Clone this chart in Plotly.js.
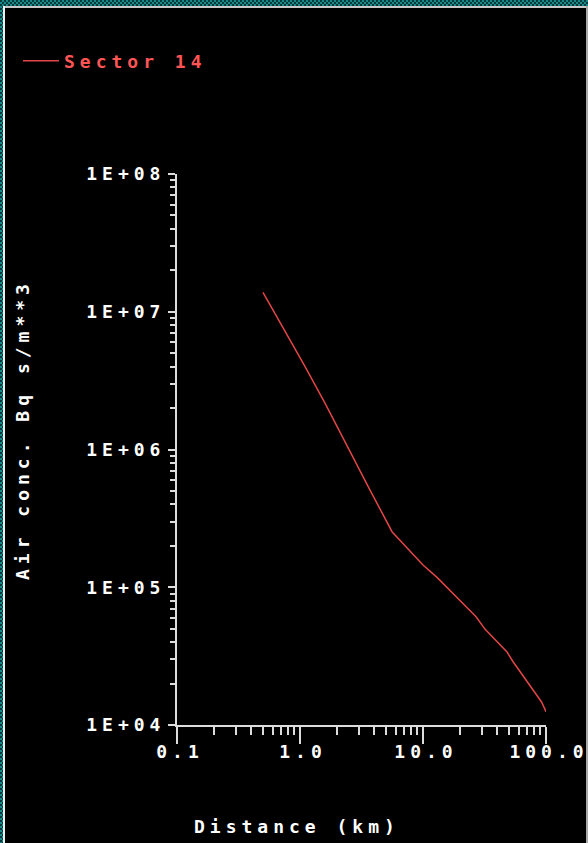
<!DOCTYPE html>
<html>
<head>
<meta charset="utf-8">
<script src="https://cdn.plot.ly/plotly-3.0.1.min.js"></script>
<style>
  html, body { margin:0; padding:0; background:#000; }
  #wrap { position:relative; width:588px; height:843px; overflow:hidden; }
  #chart { position:absolute; left:0; top:0; width:588px; height:843px; }
  .checker { position:absolute; background:repeating-conic-gradient(#168a8a 0 25%, #0b3a3a 0 50%) 0 0/4px 4px; }
  .edge { position:absolute; }
  text { letter-spacing:5px; }
</style>
</head>
<body>
<div id="wrap">
  <div id="chart"></div>
  <div class="checker" style="left:0;top:0;width:588px;height:6px;"></div>
  <div class="checker" style="left:0;top:0;width:3px;height:843px;"></div>
  <div class="edge" style="left:3px;top:6px;width:585px;height:2px;background:#c8c8c8;"></div>
  <div class="edge" style="left:3px;top:6px;width:2px;height:837px;background:#f0f0f0;"></div>
  <div class="edge" style="left:586px;top:6px;width:2px;height:837px;background:#a8a8a8;"></div>
</div>
<script>
// Data
const seriesName = "Sector 14";
const distanceKm = [0.5, 0.7, 1.1, 1.6, 2.5, 3.7, 5.6, 10, 13, 27, 32, 40, 48, 54, 70, 92, 100];
const airConc = [1.38e7, 8.2e6, 4.0e6, 2.16e6, 9.9e5, 5.1e5, 2.53e5, 1.45e5, 1.18e5, 6.1e4, 4.95e4, 4.03e4, 3.41e4, 2.88e4, 2.06e4, 1.47e4, 1.25e4];
const xTickVals = [0.1, 1, 10, 100];
const xTickText = ["0.1", "1.0", "10.0", "100.0"];
const yTickVals = [1e4, 1e5, 1e6, 1e7, 1e8];
const yTickText = ["1E+04", "1E+05", "1E+06", "1E+07", "1E+08"];
const xTitle = "Distance (km)";
const yTitle = "Air conc. Bq s/m**3";

const FONT = "DejaVu Sans Mono, monospace";
const FS = 18;
const AXC = "#dcdcdc";

const trace = {
  x: distanceKm, y: airConc, type: "scatter", mode: "lines", name: seriesName,
  line: { color: "#e24646", width: 1.5 }
};

const layout = {
  width: 588, height: 843,
  paper_bgcolor: "#000", plot_bgcolor: "#000",
  margin: { l: 177, r: 42, t: 174, b: 118, autoexpand: false },
  showlegend: true,
  legend: {
    xref: "container", yref: "container", x: 18/588, y: 1 - 61/843,
    xanchor: "left", yanchor: "middle", bgcolor: "rgba(0,0,0,0)",
    font: { family: FONT, size: FS, color: "#ff5555", weight: "bold" },
    itemwidth: 36
  },
  xaxis: {
    type: "log", range: [-1, 2], showgrid: false, zeroline: false,
    showline: true, linecolor: AXC, linewidth: 2, automargin: false,
    tickmode: "array", tickvals: xTickVals, ticktext: xTickText,
    ticks: "outside", ticklen: 17, tickwidth: 2, tickcolor: AXC,
    tickfont: { family: FONT, size: FS, color: "#ffffff", weight: "bold" },
    ticklabelshift: 3, ticklabelstandoff: -8, ticklabeloverflow: "allow",
    minor: { ticks: "outside", ticklen: 8, tickwidth: 2, tickcolor: AXC, dtick: "D1", showgrid: false },
    fixedrange: true
  },
  yaxis: {
    type: "log", range: [4, 8], showgrid: false, zeroline: false,
    showline: true, linecolor: AXC, linewidth: 2, automargin: false,
    tickmode: "array", tickvals: yTickVals, ticktext: yTickText,
    ticks: "outside", ticklen: 7, tickwidth: 2, tickcolor: AXC,
    tickfont: { family: FONT, size: FS, color: "#ffffff", weight: "bold" },
    ticklabelstandoff: -1,
    minor: { ticks: "outside", ticklen: 5, tickwidth: 2, tickcolor: AXC, dtick: "D1", showgrid: false },
    fixedrange: true
  },
  annotations: [
    { text: xTitle, xref: "paper", yref: "paper", x: (297-177)/369, y: (725-826)/551,
      xanchor: "center", yanchor: "middle", showarrow: false,
      font: { family: FONT, size: FS, color: "#ffffff", weight: "bold" } },
    { text: yTitle, xref: "paper", yref: "paper", x: (22-177)/369, y: (725-430)/551,
      xanchor: "center", yanchor: "middle", showarrow: false, textangle: -90,
      font: { family: FONT, size: FS, color: "#ffffff", weight: "bold" } }
  ]
};

Plotly.newPlot("chart", [trace], layout, { displayModeBar: false, staticPlot: true });
</script>
</body>
</html>
